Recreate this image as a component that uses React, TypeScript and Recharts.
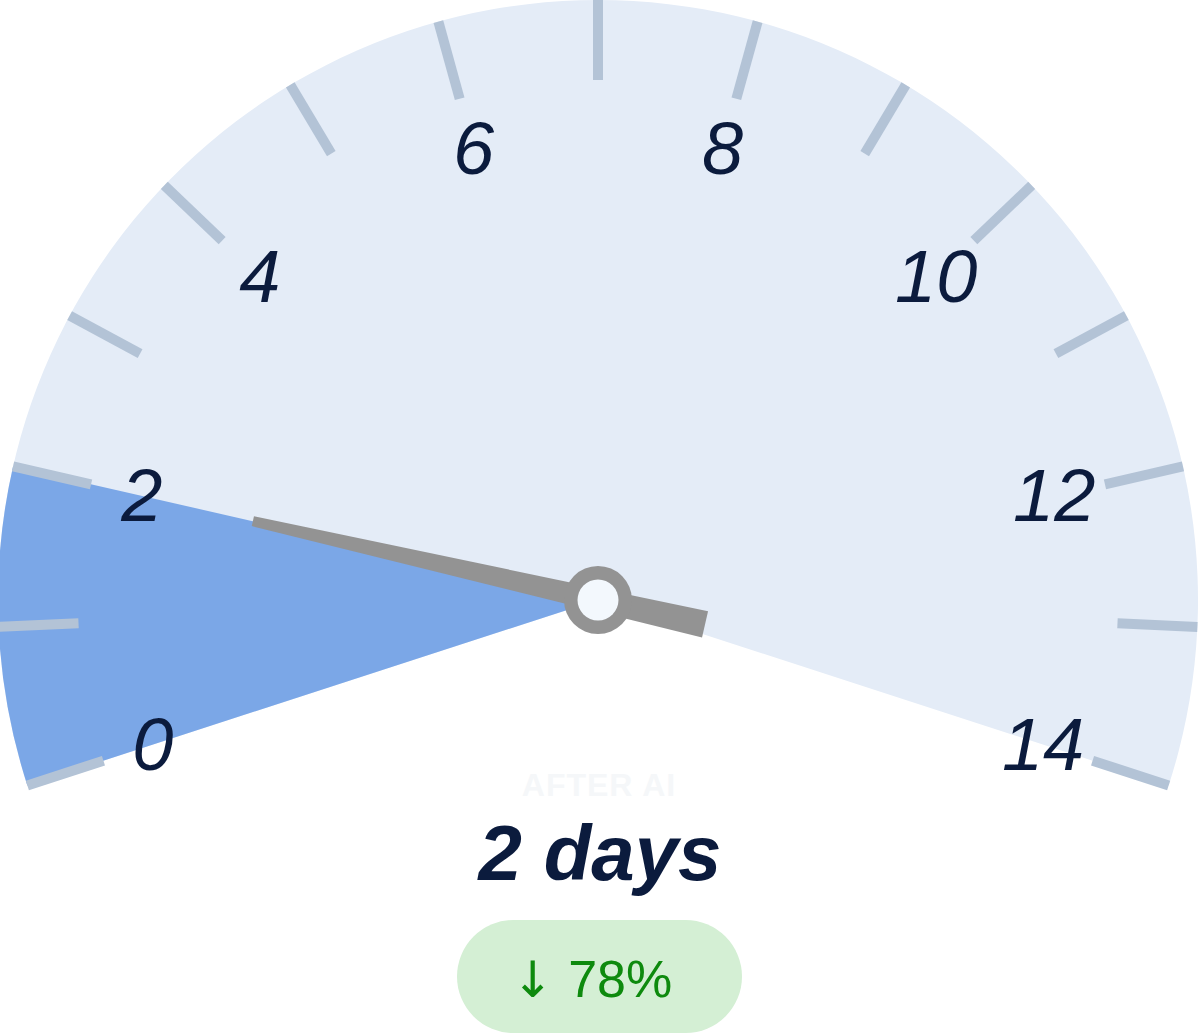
import React from 'react';
import { RadialBarChart, RadialBar, PolarAngleAxis, Sector } from 'recharts';

// gauge scale (days)
const scaleDomain = [0, 14];
const tickCount = 15;
const labelledTicks = [0, 2, 4, 6, 8, 10, 12, 14];

// value shown on the gauge
const gaugeData = [{ name: 'After AI', days: 2 }];

// texts under the gauge
const captionText = 'AFTER AI';
const valueText = '2 days';
const changeArrow = '\u2193';
const changeText = '78%';

const FONT = '"Liberation Sans", Arial, Helvetica, sans-serif';
const NAVY = '#0b1b3d';
const RAD = Math.PI / 180;

const GaugeTick = (props: any) => {
  const { x, y, payload } = props;
  if (!labelledTicks.includes(payload.value)) return <g />;
  const a = payload.coordinate * RAD;
  const inset = 52;
  return (
    <text
      x={x - inset * Math.cos(a)}
      y={y + inset * Math.sin(a)}
      textAnchor="middle"
      dominantBaseline="central"
      fontFamily={FONT}
      fontStyle="italic"
      fontSize={74}
      fill={NAVY}
    >
      {payload.value}
    </text>
  );
};

// filled sector plus needle and hub at the end angle of the bar
const NeedleSector = (props: any) => {
  const { cx, cy, innerRadius, outerRadius, startAngle, endAngle, fill } = props;
  const a = endAngle * RAD;
  const ux = Math.cos(a);
  const uy = -Math.sin(a);
  const nx = -uy;
  const ny = ux;
  const tipR = outerRadius * 0.59;
  const tailR = outerRadius * 0.183;
  const tipW = 5;
  const tailW = 13.5;
  const tx = cx + tipR * ux;
  const ty = cy + tipR * uy;
  const bx = cx - tailR * ux;
  const by = cy - tailR * uy;
  const pts = [
    [tx + tipW * nx, ty + tipW * ny],
    [tx - tipW * nx, ty - tipW * ny],
    [bx - tailW * nx, by - tailW * ny],
    [bx + tailW * nx, by + tailW * ny],
  ]
    .map((p) => p.join(','))
    .join(' ');
  return (
    <g>
      <Sector
        cx={cx}
        cy={cy}
        innerRadius={innerRadius}
        outerRadius={outerRadius}
        startAngle={startAngle}
        endAngle={endAngle}
        fill={fill}
      />
      <polygon points={pts} fill="#939393" />
      <circle cx={cx} cy={cy} r={34} fill="#939393" />
      <circle cx={cx} cy={cy} r={20.5} fill="#f3f8fd" />
    </g>
  );
};

export default function App() {
  return (
    <div style={{ position: 'absolute', left: 0, top: 0, width: 1200, height: 1035, background: '#fff' }}>
      <RadialBarChart
        width={1200}
        height={1035}
        cx={598}
        cy={600}
        innerRadius={0}
        outerRadius={600}
        startAngle={198}
        endAngle={-18}
        data={gaugeData}
        barCategoryGap={0}
        margin={{ top: 0, right: 0, bottom: 0, left: 0 }}
      >
        <RadialBar
          dataKey="days"
          fill="#7ba7e7"
          background={{ fill: '#e4ecf7' }}
          shape={NeedleSector}
          isAnimationActive={false}
        />
        <PolarAngleAxis
          type="number"
          dataKey="days"
          domain={scaleDomain}
          tickCount={tickCount}
          allowDecimals={false}
          axisLine={false}
          orientation="inner"
          tickSize={80}
          tickLine={{ stroke: '#b3c3d6', strokeWidth: 10 }}
          tick={GaugeTick}
        />
      </RadialBarChart>
      <svg
        width={1200}
        height={1035}
        style={{ position: 'absolute', left: 0, top: 0, pointerEvents: 'none' }}
      >
        <text x={599} y={796} textAnchor="middle" fontFamily={FONT} fontWeight="bold" fontSize={32} letterSpacing={1} fill="#f5f7f9">
          {captionText}
        </text>
        <text x={600} y={880} textAnchor="middle" fontFamily={FONT} fontWeight="bold" fontStyle="italic" fontSize={78} fill={NAVY}>
          {valueText}
        </text>
        <rect x={457} y={920} width={285} height={113} rx={56.5} fill="#d4efd4" />
        <text x={592} y={997} textAnchor="middle" fontFamily={FONT} fontSize={52} fill="#0e8a0e">
          <tspan fontFamily='"DejaVu Sans", sans-serif' fontSize={50}>{changeArrow}</tspan>
          <tspan> {changeText}</tspan>
        </text>
      </svg>
    </div>
  );
}
